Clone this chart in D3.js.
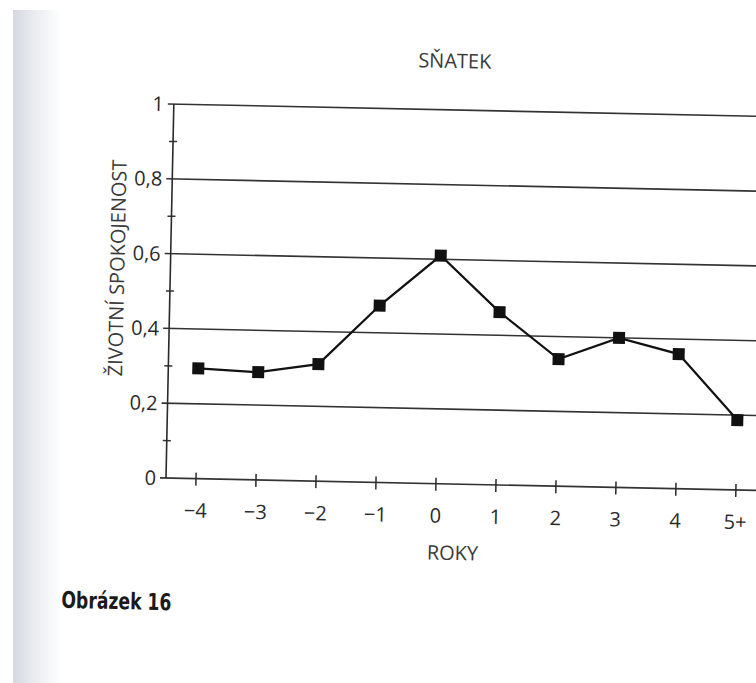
<!DOCTYPE html>
<meta charset="utf-8">
<script src="https://d3js.org/d3.v7.min.js"></script>
<style>
  body { margin: 0; background: #fff; }
  text { font-family: "Open Sans", "Noto Sans", sans-serif; fill: #2a2a2a; }
</style>
<div id="my_dataviz"></div>
<script>

// data
var years = ["\u22124", "\u22123", "\u22122", "\u22121", "0", "1", "2", "3", "4", "5+"];
var satisfaction = [0.295, 0.288, 0.313, 0.473, 0.61, 0.462, 0.34, 0.40, 0.36, 0.187];
var yTicks = [0, 0.2, 0.4, 0.6, 0.8, 1];
var yMinorTicks = [0.1, 0.3, 0.5, 0.7, 0.9];

var width = 756, height = 683;
var origin = {x: 166, y: 478};   // where the two axes meet
var tilt = 1.2;                  // the page was scanned slightly crooked

var svg = d3.select("#my_dataviz")
  .append("svg")
    .attr("width", width)
    .attr("height", height);

// grey shadow of the book spine on the left
var grad = svg.append("defs").append("linearGradient")
    .attr("id", "spine");
grad.append("stop").attr("offset", "0%").attr("stop-color", "#d5d8e1");
grad.append("stop").attr("offset", "40%").attr("stop-color", "#e8eaef");
grad.append("stop").attr("offset", "100%").attr("stop-color", "#ffffff");
svg.append("rect")
    .attr("x", 13).attr("y", 10)
    .attr("width", 48).attr("height", height - 10)
    .attr("fill", "url(#spine)");

var g = svg.append("g")
    .attr("transform", "rotate(" + tilt + "," + origin.x + "," + origin.y + ")");

// scales
var x = d3.scalePoint()
    .domain(years)
    .range([196, 736]);

var y = d3.scaleLinear()
    .domain([0, 1])
    .range([origin.y, 104]);

var fmt = function(d) { return d === 0 || d === 1 ? String(d) : d3.format(".1f")(d).replace(".", ","); };

// horizontal grid lines (also the major ticks on the y axis)
g.selectAll(".grid")
  .data(yTicks)
  .enter()
  .append("line")
    .attr("x1", origin.x - 6)
    .attr("x2", 800)
    .attr("y1", function(d) { return y(d); })
    .attr("y2", function(d) { return y(d); })
    .attr("stroke", "#333")
    .attr("stroke-width", 1.6);

// minor ticks crossing the y axis
g.selectAll(".minor")
  .data(yMinorTicks)
  .enter()
  .append("line")
    .attr("x1", origin.x - 4)
    .attr("x2", origin.x + 4)
    .attr("y1", function(d) { return y(d); })
    .attr("y2", function(d) { return y(d); })
    .attr("stroke", "#333")
    .attr("stroke-width", 1.5);

// y axis line
g.append("line")
    .attr("x1", origin.x).attr("x2", origin.x)
    .attr("y1", y(0)).attr("y2", y(1))
    .attr("stroke", "#2a2a2a")
    .attr("stroke-width", 1.6);

// y tick labels
g.selectAll(".ylab")
  .data(yTicks)
  .enter()
  .append("text")
    .attr("x", origin.x - 10)
    .attr("y", function(d) { return y(d); })
    .attr("dy", "0.36em")
    .attr("text-anchor", "end")
    .style("font-size", "20px")
    .text(fmt);

// x ticks crossing the x axis
g.selectAll(".xtick")
  .data(years)
  .enter()
  .append("line")
    .attr("x1", function(d) { return x(d); })
    .attr("x2", function(d) { return x(d); })
    .attr("y1", origin.y - 6)
    .attr("y2", origin.y + 7)
    .attr("stroke", "#2a2a2a")
    .attr("stroke-width", 1.5);

// x tick labels
g.selectAll(".xlab")
  .data(years)
  .enter()
  .append("text")
    .attr("x", function(d) { return x(d); })
    .attr("y", origin.y + 39)
    .attr("text-anchor", "middle")
    .style("font-size", "20px")
    .text(function(d) { return d; });

// the series
var line = d3.line()
    .x(function(d, i) { return x(years[i]); })
    .y(function(d) { return y(d); });

g.append("path")
    .datum(satisfaction)
    .attr("fill", "none")
    .attr("stroke", "#111")
    .attr("stroke-width", 2.2)
    .attr("d", line);

g.selectAll(".marker")
  .data(satisfaction)
  .enter()
  .append("rect")
    .attr("x", function(d, i) { return x(years[i]) - 6; })
    .attr("y", function(d) { return y(d) - 6; })
    .attr("width", 12)
    .attr("height", 12)
    .attr("fill", "#111");

// titles
g.append("text")
    .attr("x", 446)
    .attr("y", 62)
    .attr("text-anchor", "middle")
    .style("font-size", "20px")
    .style("fill", "#3a3a3a")
    .text("SŇATEK");

g.append("text")
    .attr("x", 454)
    .attr("y", 554)
    .attr("text-anchor", "middle")
    .style("font-size", "20px")
    .style("fill", "#3a3a3a")
    .text("ROKY");

g.append("text")
    .attr("transform", "translate(120," + 269 + ") rotate(-90)")
    .attr("text-anchor", "middle")
    .style("font-size", "20px")
    .style("fill", "#3a3a3a")
    .text("ŽIVOTNÍ SPOKOJENOST");

g.append("text")
    .attr("x", 64)
    .attr("y", 610)
    .attr("textLength", 110)
    .attr("lengthAdjust", "spacingAndGlyphs")
    .style("font-family", "'DejaVu Sans Condensed', 'DejaVu Sans', sans-serif")
    .style("font-weight", "bold")
    .style("font-size", "23px")
    .style("fill", "#1a1a1a")
    .text("Obrázek 16");

</script>
